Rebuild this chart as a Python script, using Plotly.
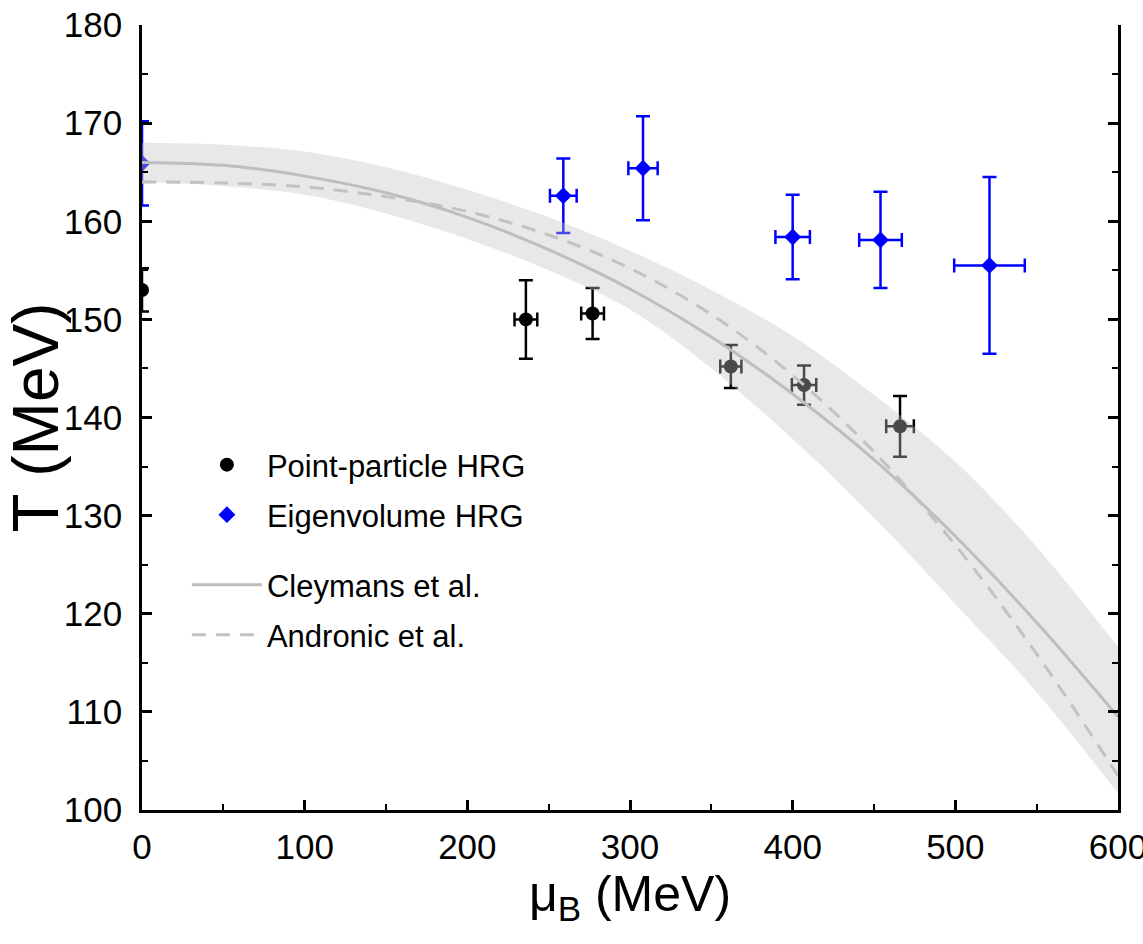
import plotly.graph_objects as go

# Point-particle HRG fits
pp_mu = [0, 236, 277, 362, 407, 466]
pp_mu_err = [0, 7, 7, 6.5, 7.5, 8.5]
pp_T = [153.0, 150.0, 150.6, 145.2, 143.3, 139.1]
pp_T_err = [2.2, 4.0, 2.6, 2.2, 2.0, 3.1]

# Eigenvolume HRG fits
ev_mu = [0, 259, 308, 400, 454, 521]
ev_mu_err = [0, 8.2, 9.0, 10.6, 13.1, 21.7]
ev_T = [165.9, 162.6, 165.4, 158.4, 158.1, 155.5]
ev_T_err = [4.3, 3.8, 5.3, 4.3, 4.9, 9.0]

# Freeze-out curves and uncertainty band
mu_grid = [0, 50, 100, 150, 200, 250, 300, 350, 400, 450, 500, 550, 600]
cleymans_T = [166.0, 165.7, 164.6, 162.9, 160.4, 157.1, 153.1, 148.2, 142.4, 135.7, 127.9, 119.1, 109.5]
andronic_T = [164.0, 163.9, 163.5, 162.5, 161.0, 158.6, 155.2, 150.5, 144.3, 136.5, 127.0, 115.9, 103.5]
band_upper = [168.0, 167.8, 167.1, 165.5, 163.2, 160.4, 157.0, 153.0, 148.3, 142.3, 135.5, 126.8, 116.6]
band_lower = [164.0, 163.6, 162.7, 160.8, 158.2, 155.0, 151.0, 145.0, 137.8, 129.8, 121.0, 112.0, 101.7]

TEXT_FONT = "Liberation Sans, Arial, sans-serif"

fig = go.Figure()

fig.add_trace(go.Scatter(
    x=pp_mu, y=pp_T, mode="markers", name="Point-particle HRG", legend="legend",
    marker=dict(symbol="circle", size=14, color="black"),
    error_y=dict(type="data", array=pp_T_err, color="black", thickness=2.5, width=7),
    error_x=dict(type="data", array=pp_mu_err, color="black", thickness=2.5, width=7),
))
fig.add_trace(go.Scatter(
    x=ev_mu, y=ev_T, mode="markers", name="Eigenvolume HRG", legend="legend2",
    marker=dict(symbol="diamond", size=13, color="#0000ff"),
    error_y=dict(type="data", array=ev_T_err, color="#0000ff", thickness=2.5, width=7),
    error_x=dict(type="data", array=ev_mu_err, color="#0000ff", thickness=2.5, width=7),
))
fig.add_trace(go.Scatter(
    x=mu_grid, y=cleymans_T, mode="lines", name="Cleymans et al.", legend="legend3",
    line=dict(color="#bbbbbb", width=3, shape="spline"),
))
fig.add_trace(go.Scatter(
    x=mu_grid, y=andronic_T, mode="lines", name="Andronic et al.", legend="legend4",
    line=dict(color="#c2c2c2", width=3, dash="14px,10px", shape="spline"),
))
# translucent uncertainty band laid over the points and curves
fig.add_trace(go.Scatter(
    x=mu_grid, y=band_lower, mode="lines",
    line=dict(width=0, shape="spline"), showlegend=False, hoverinfo="skip",
))
fig.add_trace(go.Scatter(
    x=mu_grid, y=band_upper, mode="lines", fill="tonexty",
    fillcolor="rgba(195,195,195,0.38)",
    line=dict(width=0, shape="spline"), showlegend=False, hoverinfo="skip",
))

axis_common = dict(
    showline=True, linecolor="black", linewidth=2.5,
    ticks="inside", ticklen=10, tickwidth=2.5, tickcolor="black",
    showgrid=False, zeroline=False, automargin=False,
    tickfont=dict(family=TEXT_FONT, size=35, color="black"),
)

fig.update_xaxes(
    range=[0, 600], tickvals=[0, 100, 200, 300, 400, 500, 600], mirror=False,
    minor=dict(ticks="inside", ticklen=6, tickwidth=2, tickcolor="black", dtick=50),
    title=dict(text="μ<sub>B</sub> (MeV)", font=dict(family=TEXT_FONT, size=50, color="black"), standoff=10),
    ticklabelstandoff=4, ticklabeloverflow="allow",
    **axis_common,
)
fig.update_yaxes(
    range=[100, 180], dtick=10, mirror="ticks",
    minor=dict(ticks="inside", ticklen=6, tickwidth=2, tickcolor="black", dtick=5),
    title=dict(text="T (MeV)", font=dict(family=TEXT_FONT, size=64, color="black"), standoff=12),
    ticklabelstandoff=10,
    **axis_common,
)

def legend_box(ypos):
    return dict(
        x=0.046, y=ypos, xanchor="left", yanchor="middle",
        bgcolor="rgba(0,0,0,0)", borderwidth=0, itemwidth=70,
        font=dict(family=TEXT_FONT, size=31, color="black"),
    )

fig.update_layout(
    width=1143, height=944,
    margin=dict(l=142, r=25, t=25, b=134),
    paper_bgcolor="white", plot_bgcolor="white",
    legend=legend_box(0.4395),
    legend2=legend_box(0.3758),
    legend3=legend_box(0.2866),
    legend4=legend_box(0.2229),
)

fig.write_html("out.html")
